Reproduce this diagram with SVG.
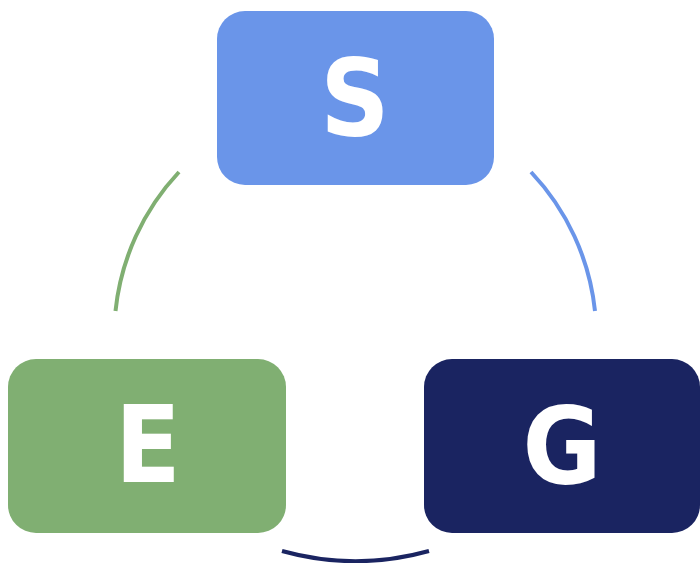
<svg xmlns="http://www.w3.org/2000/svg" width="700" height="563" viewBox="0 0 700 563">
<style>
.lbl{font-family:"DejaVu Sans Condensed","DejaVu Sans",sans-serif;font-stretch:condensed;font-weight:bold;font-size:107px;fill:#ffffff;text-anchor:middle}
.arc{fill:none;stroke-width:4}
</style>
<rect width="700" height="563" fill="#ffffff"/>
<g id="connectors">
<path class="arc" stroke="#80AF72" d="M179,172 A239,239 0 0 0 115.5,311"/>
<path class="arc" stroke="#6A95E9" d="M531,172 A239,239 0 0 1 595,311"/>
<path class="arc" stroke="#1A2461" d="M282,551 A274,274 0 0 0 429,551"/>
</g>
<g id="node-S">
<rect x="217" y="11" width="277" height="174" rx="28" fill="#6A95E9"/>
<text class="lbl" x="355" y="135">S</text>
</g>
<g id="node-E">
<rect x="8" y="359" width="278" height="174" rx="28" fill="#80AF72"/>
<text class="lbl" x="148" y="482">E</text>
</g>
<g id="node-G">
<rect x="424" y="359" width="276" height="174" rx="28" fill="#1A2461"/>
<text class="lbl" x="562" y="483">G</text>
</g>
</svg>
